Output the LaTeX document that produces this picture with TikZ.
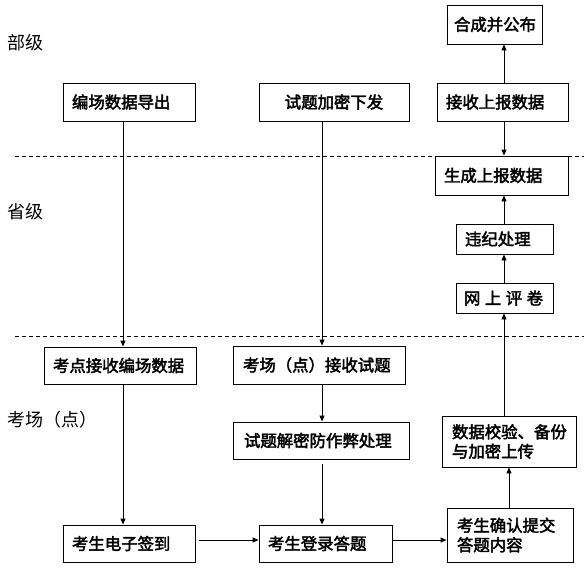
\documentclass[tikz,border=0pt]{standalone}
\usepackage{fontspec}
\usetikzlibrary{arrows.meta}
\newfontfamily\lblfont{Noto Sans CJK SC}
\newfontfamily\bxfont{Noto Sans CJK SC}[FakeBold=2.5]
\tikzset{
  box/.style={draw, fill=white, line width=0.9pt, align=left, inner ysep=0pt, inner xsep=9pt,
    font=\bxfont\fontsize{16.4}{19.5}\selectfont},
  lvl/.style={anchor=west, inner sep=0pt, font=\lblfont\fontsize{18}{20}\selectfont},
  arr/.style={line width=0.9pt, -{Triangle[length=6pt,width=5pt]}},
  sep/.style={line width=0.8pt, dash pattern=on 4pt off 3pt}
}
\begin{document}
\begin{tikzpicture}[x=1pt,y=-1pt]
\useasboundingbox (0,0) rectangle (584,571);
% separators
\coordinate (s1a) at (15,156); \coordinate (s1b) at (584,156);
\coordinate (s2a) at (15,336); \coordinate (s2b) at (584,336);
\draw[sep] (s1a) -- (s1b);
\draw[sep] (s2a) -- (s2b);
% level labels
\node[lvl] (l1) at (7,43) {部级};
\node[lvl] (l2) at (7,212) {省级};
\node[lvl] (l3) at (7,420) {考场（点）};
% column coordinates
\coordinate (c1) at (123,0);
\coordinate (c2) at (322,0);
\coordinate (c3) at (504,0);
\coordinate (r) at (0,540);
% boxes
\node[box, inner xsep=7pt, text width=81pt, minimum height=39pt] (hc) at (494.5,24.5) {合成并公布};
\node[box, text width=113pt, minimum height=38pt] (js) at (502.5,102) {接收上报数据};
\node[box, text width=114pt, minimum height=38pt] (bc) at (129,102) {编场数据导出};
\node[box, align=center, text width=132pt, minimum height=38pt] (sj) at (334,102) {试题加密下发};
\node[box, text width=115pt, minimum height=39pt] (sc) at (501.5,175.5) {生成上报数据};
\node[box, text width=79pt, minimum height=30pt] (wj) at (504.5,239) {违纪处理};
\node[box, inner xsep=8pt, text width=81pt, minimum height=30pt] (wp) at (504.5,298) {网\hspace{4.5pt}上\hspace{4.5pt}评\hspace{4.5pt}卷};
\node[box, inner xsep=9pt, text width=134pt, minimum height=37pt] (kd) at (120,365.5) {考点接收编场数据};
\node[box, inner xsep=10pt, text width=152pt, minimum height=38pt] (kj) at (319,365) {考场（点）接收试题};
\node[box, inner xsep=11pt, text width=154pt, minimum height=37pt] (jm) at (321,440.5) {试题解密防作弊处理};
\node[box, inner xsep=10pt, text width=114pt, minimum height=51pt] (sy) at (509,441.5) {数据校验、备份\\与加密上传};
\node[box, text width=114pt, minimum height=37pt] (qd) at (129,543.5) {考生电子签到};
\node[box, text width=115pt, minimum height=37pt] (dl) at (325.5,543.5) {考生登录答题};
\node[box, inner xsep=10pt, text width=106pt, minimum height=54pt] (qr) at (510,535) {考生确认提交\\答题内容};
% connectors
\draw[arr] (c1 |- bc.south) -- (c1 |- kd.north);
\draw[arr] (c1 |- kd.south) -- (c1 |- qd.north);
\draw[arr] (c2 |- sj.south) -- (c2 |- kj.north);
\draw[arr] (c2 |- kj.south) -- (c2 |- jm.north);
\draw[arr, shorten <=5pt] (c2 |- jm.south) -- (c2 |- dl.north);
\draw[arr, shorten <=4pt] (r -| qd.east) -- (r -| dl.west);
\draw[arr] (r -| dl.east) -- (r -| qr.west);
\draw[arr] (qr.north -| sy.south) -- (sy.south);
\draw[arr] (c3 |- sy.north) -- (c3 |- wp.south);
\draw[arr] (c3 |- wp.north) -- (c3 |- wj.south);
\draw[arr] (c3 |- wj.north) -- (c3 |- sc.south);
\draw[arr] (c3 |- js.south) -- (c3 |- sc.north);
\draw[arr] (c3 |- js.north) -- (c3 |- hc.south);
\end{tikzpicture}
\end{document}
